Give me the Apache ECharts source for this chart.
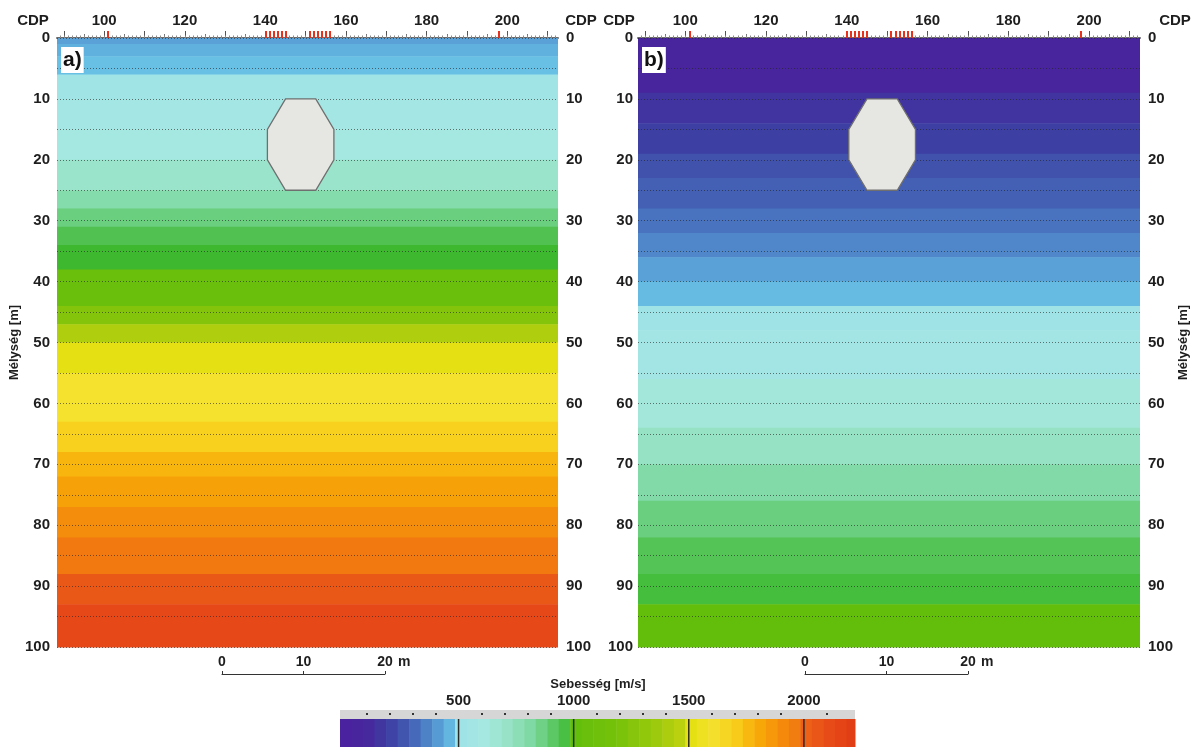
<!DOCTYPE html>
<html><head><meta charset="utf-8">
<script src="https://cdn.jsdelivr.net/npm/echarts@6/dist/echarts.min.js"></script>
<style>html,body{margin:0;padding:0;background:#fff}#c{width:1192px;height:747px}</style>
</head><body><div id="c"></div>
<script>
// ---------------- data ----------------
const cdpLabels = [100, 120, 140, 160, 180, 200];
const receiverCDP = [101, 140, 141, 142, 143, 144, 145, 151, 152, 153, 154, 155, 156, 198];
const depthLabels = [0, 10, 20, 30, 40, 50, 60, 70, 80, 90, 100];
// panel a) layer boundaries (m) and layer velocities (m/s)
const depthBoundsA = [0, 1, 3, 6, 10, 15, 20, 25, 28, 31, 34, 38, 44, 47, 50, 55, 63, 68, 72, 77, 82, 88, 93, 100];
const velocityA = [420, 450, 480, 530, 580, 610, 690, 790, 870, 940, 990, 1060, 1250, 1420, 1510, 1600, 1690, 1770, 1830, 1900, 1970, 2050, 2140];
// panel b)
const depthBoundsB = [0, 9, 14, 19, 23, 28, 32, 36, 40, 44, 48, 56, 64, 70, 76, 82, 88, 93, 100];
const velocityB = [60, 150, 200, 250, 290, 330, 370, 420, 470, 510, 560, 640, 720, 800, 870, 930, 970, 1010];
// cavity outline (CDP, depth m)
const cavityCDP = [145, 152.5, 157, 157, 152.5, 145, 140.5, 140.5];
const cavityDepth = [10, 10, 15, 20, 25, 25, 20, 15];
const velocityLabels = [500, 1000, 1500, 2000];
const scaleLabels = [0, 10, 20];

// ---------------- style ----------------
const FONT = "'Liberation Sans', Arial, sans-serif";
const CDP_MIN = 88.3, CDP_MAX = 212.6;
const V_MIN = -15, V_MAX = 2222;
const colorStops = [
  [-20, '#4b1f9e'], [100, '#47289c'], [200, '#3d3fa3'], [300, '#4464b6'], [400, '#5496d2'],
  [490, '#6ac6e6'], [500, '#9ee2e8'], [620, '#a6e8e0'], [720, '#96e2c4'], [820, '#7cd8a0'],
  [920, '#58c65e'], [995, '#3cb82c'], [1000, '#62be0c'], [1200, '#78c20a'], [1400, '#a8cc0e'],
  [1495, '#c4d410'], [1500, '#e2e010'], [1600, '#f4e22e'], [1700, '#f8ce1c'], [1800, '#f8aa08'],
  [1900, '#f48c0c'], [1995, '#f07210'], [2000, '#ec6218'], [2100, '#e84e18'], [2240, '#e03814']
];
function hex(c) { return [1, 3, 5].map(i => parseInt(c.substr(i, 2), 16)); }
function colorOf(v) {
  if (v <= colorStops[0][0]) return colorStops[0][1];
  for (let i = 1; i < colorStops.length; i++) {
    if (v <= colorStops[i][0]) {
      const [v0, c0] = colorStops[i - 1], [v1, c1] = colorStops[i];
      const t = (v - v0) / (v1 - v0), a = hex(c0), b = hex(c1);
      return 'rgb(' + a.map((x, k) => Math.round(x + (b[k] - x) * t)).join(',') + ')';
    }
  }
  return colorStops[colorStops.length - 1][1];
}
function layers(bounds, vel) { return vel.map((v, i) => [bounds[i], bounds[i + 1], v]); }
function range(a, b, s) { const r = []; for (let x = a; x <= b + 1e-9; x += s) r.push(x); return r; }

const plain = v => String(v);
const labelStyle = { fontSize: 15, fontWeight: 'bold', color: '#1e1e1e', fontFamily: FONT, formatter: plain };
const tens = range(90, 210, 10);
const fives = range(95, 205, 10);
const ones = range(89, 212, 1);

function cdpAxes(gi) {
  const base = { type: 'value', gridIndex: gi, position: 'top', min: CDP_MIN, max: CDP_MAX,
    splitLine: { show: false }, axisLine: { show: false }, axisLabel: { show: false }, axisTick: { show: false } };
  return [
    Object.assign({}, base, { axisLine: { show: true, lineStyle: { color: '#6b6b6b', width: 2 } },
      axisTick: { show: true, customValues: tens, length: 7, lineStyle: { color: '#555', width: 1 } },
      axisLabel: Object.assign({ show: true, customValues: cdpLabels, margin: 10 }, labelStyle) }),
    Object.assign({}, base, { axisTick: { show: true, customValues: fives, length: 4, lineStyle: { color: '#777', width: 1 } } }),
    Object.assign({}, base, { axisTick: { show: true, customValues: ones, length: 2.5, lineStyle: { color: '#8a8a8a', width: 1 } } }),
    Object.assign({}, base, { axisTick: { show: true, customValues: receiverCDP, length: 7, lineStyle: { color: '#e8321e', width: 2 } } })
  ];
}
function depthAxes(gi, nameSide) {
  const base = { type: 'value', gridIndex: gi, inverse: true, min: 0, max: 100, interval: 5, z: 5,
    axisLine: { show: false }, axisTick: { show: false },
    axisLabel: Object.assign({ customValues: depthLabels, margin: gi === 0 ? 7 : 5 }, labelStyle) };
  const nm = { name: 'Mélység [m]', nameLocation: 'middle', nameRotate: 90, nameGap: 34,
    nameTextStyle: { fontSize: 13, fontWeight: 'bold', color: '#1e1e1e', fontFamily: FONT } };
  const left = Object.assign({}, base, { position: 'left',
    splitLine: { show: true, lineStyle: { color: 'rgba(35,35,35,0.6)', type: [1, 2], width: 1 } } });
  const right = Object.assign({}, base, { position: 'right', splitLine: { show: false },
    axisLabel: Object.assign({ customValues: depthLabels, margin: 8 }, labelStyle) });
  if (nameSide === 'left') Object.assign(left, nm); else Object.assign(right, nm);
  return [left, right];
}
function hiddenY(gi) { return { type: 'value', gridIndex: gi, min: 0, max: 1, show: false }; }
function scaleAxis(gi) {
  return { type: 'value', gridIndex: gi, position: 'top', min: 0, max: 20, splitLine: { show: false },
    axisLine: { show: true, lineStyle: { color: '#333', width: 1 } },
    axisTick: { show: true, customValues: scaleLabels, length: 3, lineStyle: { color: '#333' } },
    axisLabel: Object.assign({ customValues: scaleLabels, margin: 4 }, labelStyle, { fontSize: 14 }) };
}

const layerRender = (params, api) => {
  const p1 = api.coord([CDP_MIN, api.value(0)]), p2 = api.coord([CDP_MAX, api.value(1)]);
  return { type: 'rect', shape: { x: p1[0], y: p1[1], width: p2[0] - p1[0], height: p2[1] - p1[1] + 0.5 },
    style: { fill: colorOf(api.value(2)) } };
};
const cavityRender = (params, api) => ({
  type: 'polygon', shape: { points: cavityCDP.map((c, i) => api.coord([c, cavityDepth[i]])) },
  style: { fill: '#e6e6e3', stroke: '#6f6f6f', lineWidth: 1.3 }
});

const bands = [];
for (let v = V_MIN; v < V_MAX; v += 50) bands.push([v, Math.min(v + 50, V_MAX)]);

const option = {
  animation: false,
  grid: [
    { left: 57, top: 38, width: 501, height: 609 },
    { left: 638, top: 38, width: 502, height: 609 },
    { left: 222, top: 673, width: 163, height: 1 },
    { left: 805, top: 673, width: 163, height: 1 },
    { left: 340, top: 719, width: 515, height: 28 }
  ],
  xAxis: [].concat(cdpAxes(0), cdpAxes(1), [scaleAxis(2), scaleAxis(3),
    { type: 'value', gridIndex: 4, position: 'top', min: V_MIN, max: V_MAX, splitLine: { show: false },
      axisLine: { show: false },
      axisTick: { show: true, customValues: [0].concat(velocityLabels), length: 9, lineStyle: { color: '#333', width: 1.5 } },
      axisLabel: Object.assign({ customValues: velocityLabels, margin: 11 }, labelStyle) },
    { type: 'value', gridIndex: 4, position: 'top', offset: 4, min: V_MIN, max: V_MAX, splitLine: { show: false },
      axisLine: { show: false }, axisLabel: { show: false },
      axisTick: { show: true, customValues: range(100, 2100, 100).filter(v => v % 500 !== 0), length: 2, lineStyle: { color: '#333', width: 2 } } }
  ]),
  yAxis: [].concat(depthAxes(0, 'left'), depthAxes(1, 'right'), [hiddenY(2), hiddenY(3), hiddenY(4)]),
  series: [
    { type: 'custom', xAxisIndex: 0, yAxisIndex: 0, renderItem: layerRender, data: layers(depthBoundsA, velocityA), z: 1 },
    { type: 'custom', xAxisIndex: 0, yAxisIndex: 0, renderItem: cavityRender, data: [0], z: 6 },
    { type: 'custom', xAxisIndex: 4, yAxisIndex: 2, renderItem: layerRender, data: layers(depthBoundsB, velocityB), z: 1 },
    { type: 'custom', xAxisIndex: 4, yAxisIndex: 2, renderItem: cavityRender, data: [0], z: 6 },
    { type: 'custom', xAxisIndex: 10, yAxisIndex: 6, data: bands, z: 1,
      renderItem: (params, api) => {
        const p1 = api.coord([api.value(0), 1]), p2 = api.coord([api.value(1), 0]);
        return { type: 'rect', shape: { x: p1[0], y: p1[1], width: p2[0] - p1[0] + 0.5, height: p2[1] - p1[1] },
          style: { fill: colorOf((api.value(0) + api.value(1)) / 2) } };
      } },
    { type: 'custom', xAxisIndex: 10, yAxisIndex: 6, data: velocityLabels, z: 3,
      renderItem: (params, api) => {
        const p1 = api.coord([api.value(0), 1]), p2 = api.coord([api.value(0), 0]);
        return { type: 'line', shape: { x1: p1[0], y1: p1[1], x2: p2[0], y2: p2[1] }, style: { stroke: '#2a2a2a', lineWidth: 1.5 } };
      } }
  ],
  graphic: [
    { type: 'rect', left: 340, top: 710, z: -10, shape: { width: 515, height: 9 }, style: { fill: '#d6d6d6' } },
    { type: 'text', x: 33, y: 21, style: { text: 'CDP', font: "bold 15px " + FONT, fill: '#1e1e1e', align: 'center', verticalAlign: 'middle' } },
    { type: 'text', x: 581, y: 21, style: { text: 'CDP', font: "bold 15px " + FONT, fill: '#1e1e1e', align: 'center', verticalAlign: 'middle' } },
    { type: 'text', x: 619, y: 21, style: { text: 'CDP', font: "bold 15px " + FONT, fill: '#1e1e1e', align: 'center', verticalAlign: 'middle' } },
    { type: 'text', x: 1175, y: 21, style: { text: 'CDP', font: "bold 15px " + FONT, fill: '#1e1e1e', align: 'center', verticalAlign: 'middle' } },
    { type: 'text', x: 61, y: 47, z: 10, style: { text: 'a)', font: "bold 21px " + FONT, fill: '#111', backgroundColor: '#fff', padding: [3, 2, 2, 2] } },
    { type: 'text', x: 642, y: 47, z: 10, style: { text: 'b)', font: "bold 21px " + FONT, fill: '#111', backgroundColor: '#fff', padding: [3, 2, 2, 2] } },
    { type: 'text', x: 398, y: 662, style: { text: 'm', font: "bold 14px " + FONT, fill: '#1e1e1e', verticalAlign: 'middle' } },
    { type: 'text', x: 981, y: 662, style: { text: 'm', font: "bold 14px " + FONT, fill: '#1e1e1e', verticalAlign: 'middle' } },
    { type: 'text', x: 598, y: 684, style: { text: 'Sebesség [m/s]', font: "bold 13px " + FONT, fill: '#1e1e1e', align: 'center', verticalAlign: 'middle' } }
  ]
};
const chart = echarts.init(document.getElementById('c'));
chart.setOption(option);
</script></body></html>
